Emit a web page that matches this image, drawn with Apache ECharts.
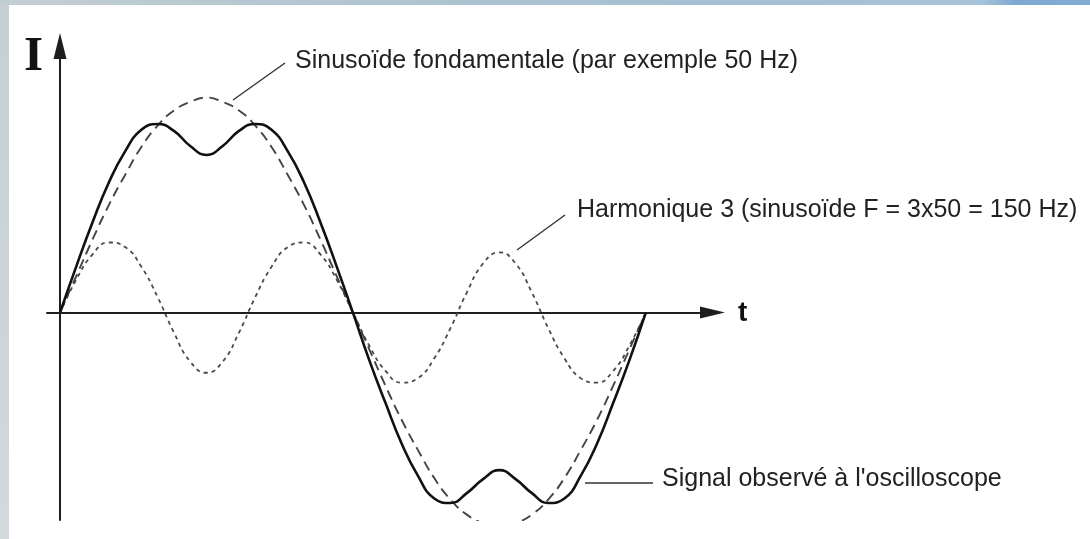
<!DOCTYPE html>
<html>
<head>
<meta charset="utf-8">
<script src="https://cdn.jsdelivr.net/npm/echarts@6/dist/echarts.min.js"></script>
<style>
  html, body { margin: 0; padding: 0; background: #ffffff; }
  #chart { width: 1090px; height: 539px; }
</style>
</head>
<body>
<div id="chart"></div>
<script>
// Phase over one period of the fundamental (degrees)
const phase = [0, 10, 20, 30, 40, 50, 60, 70, 80, 90, 100, 110, 120, 130, 140, 150, 160, 170, 180,
               190, 200, 210, 220, 230, 240, 250, 260, 270, 280, 290, 300, 310, 320, 330, 340, 350, 360];

// Fundamental sinusoid (50 Hz), relative current
const fundamental = [0, 17, 34, 50, 64, 77, 87, 94, 98, 100, 98, 94, 87, 77, 64, 50, 34, 17, 0,
                     -17, -34, -50, -64, -77, -87, -94, -98, -100, -98, -94, -87, -77, -64, -50, -34, -17, 0];

// Third harmonic (150 Hz)
const harmonic3 = [0, 15.3, 27.1, 32.6, 30.5, 21.3, 7.2, -9.3, -22.8, -28, -22.8, -9.3, 7.2, 21.3, 30.5, 32.6, 27.1, 15.3, 0,
                   -15.3, -27.1, -32.6, -30.5, -21.3, -7.2, 9.3, 22.8, 28, 22.8, 9.3, -7.2, -21.3, -30.5, -32.6, -27.1, -15.3, 0];

// Resulting waveform seen on the oscilloscope
const signal = [0, 21.5, 42, 60.5, 75, 85, 87.7, 84.5, 77.5, 73.3, 77.5, 84.5, 87.7, 85, 75, 60.5, 42, 21.5, 0,
                -22, -42, -61, -76, -86.5, -88.6, -84, -77.5, -73.3, -77.5, -84, -88.6, -86.5, -76, -61, -42, -22, 0];

// Annotation texts
const labelFundamental = 'Sinusoïde fondamentale (par exemple 50 Hz)';
const labelHarmonic = 'Harmonique 3 (sinusoïde F = 3x50 = 150 Hz)';
const labelSignal = "Signal observé à l'oscilloscope";
const axisNameY = 'I';
const axisNameX = 't';

const pairs = (vals) => phase.map((p, i) => [p, vals[i]]);

const chart = echarts.init(document.getElementById('chart'), null, { renderer: 'canvas' });

const sans = '"Liberation Sans", Arial, sans-serif';
const ink = '#222222';

const axisCommon = {
  type: 'value',
  axisTick: { show: false },
  axisLabel: { show: false },
  splitLine: { show: false }
};

chart.setOption({
  backgroundColor: '#ffffff',
  animation: false,
  grid: { left: 47, right: 377.5, top: 46, bottom: 19 },
  xAxis: Object.assign({}, axisCommon, {
    min: -8, max: 401,
    axisLine: {
      onZero: true,
      symbol: ['none', 'triangle'],
      symbolSize: [12, 25],
      lineStyle: { color: '#1e1e1e', width: 2 }
    }
  }),
  yAxis: Object.assign({}, axisCommon, {
    min: -96.5, max: 124,
    axisLine: {
      onZero: true,
      symbol: ['none', 'triangle'],
      symbolSize: [13, 26],
      lineStyle: { color: '#1e1e1e', width: 2 }
    }
  }),
  series: [
    {
      name: 'fondamentale',
      type: 'line',
      data: pairs(fundamental),
      smooth: 0.5,
      symbol: 'none',
      lineStyle: { color: '#444444', width: 1.9, type: [10, 6] },
      z: 3
    },
    {
      name: 'harmonique 3',
      type: 'line',
      data: pairs(harmonic3),
      smooth: 0.5,
      symbol: 'none',
      lineStyle: { color: '#4a4a4a', width: 1.8, type: [4, 4] },
      z: 2
    },
    {
      name: 'signal',
      type: 'line',
      data: pairs(signal),
      smooth: 0.5,
      symbol: 'none',
      lineStyle: { color: '#111111', width: 2.6 },
      z: 4
    }
  ],
  graphic: [
    // frame bands
    {
      type: 'rect', z: -10, silent: true,
      shape: { x: 0, y: 0, width: 9, height: 539 },
      style: {
        fill: new echarts.graphic.LinearGradient(0, 0, 0, 1, [
          { offset: 0, color: '#c4d0d4' }, { offset: 1, color: '#d3d8db' }
        ])
      }
    },
    {
      type: 'rect', z: -10, silent: true,
      shape: { x: 0, y: 0, width: 1090, height: 5 },
      style: {
        fill: new echarts.graphic.LinearGradient(0, 0, 1, 0, [
          { offset: 0, color: '#c3ced3' },
          { offset: 0.35, color: '#b0c4d0' },
          { offset: 0.7, color: '#a3bfd3' },
          { offset: 0.9, color: '#a8c4da' },
          { offset: 0.93, color: '#7eaad2' },
          { offset: 1, color: '#80acd2' }
        ])
      }
    },
    // axis names
    {
      type: 'text', silent: true,
      style: { text: axisNameY, x: 24, y: 57, align: 'left', verticalAlign: 'middle',
               font: 'bold 49px "Liberation Serif", "Times New Roman", serif', fill: '#111' }
    },
    {
      type: 'text', silent: true,
      style: { text: axisNameX, x: 738, y: 313, align: 'left', verticalAlign: 'middle',
               font: 'bold 28px ' + sans, fill: '#111' }
    },
    // leader lines
    {
      type: 'line', silent: true,
      shape: { x1: 233, y1: 100, x2: 285, y2: 63 },
      style: { stroke: '#333', lineWidth: 1.4 }
    },
    {
      type: 'line', silent: true,
      shape: { x1: 517, y1: 250, x2: 565, y2: 215 },
      style: { stroke: '#333', lineWidth: 1.4 }
    },
    {
      type: 'line', silent: true,
      shape: { x1: 585, y1: 483, x2: 653, y2: 483 },
      style: { stroke: '#333', lineWidth: 1.4 }
    },
    // annotations
    {
      type: 'text', silent: true,
      style: { text: labelFundamental, x: 295, y: 61, align: 'left', verticalAlign: 'middle',
               font: '25px ' + sans, fill: ink }
    },
    {
      type: 'text', silent: true,
      style: { text: labelHarmonic, x: 577, y: 210.5, align: 'left', verticalAlign: 'middle',
               font: '25px ' + sans, fill: ink }
    },
    {
      type: 'text', silent: true,
      style: { text: labelSignal, x: 662, y: 479, align: 'left', verticalAlign: 'middle',
               font: '25px ' + sans, fill: ink }
    }
  ]
});
</script>
</body>
</html>
